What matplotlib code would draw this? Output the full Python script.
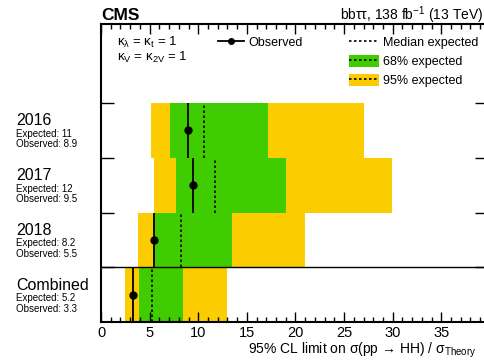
import matplotlib.pyplot as plt
from matplotlib.patches import Patch
from matplotlib.lines import Line2D
from matplotlib.ticker import MultipleLocator

plt.rcParams['font.family'] = ['Liberation Sans', 'DejaVu Sans']
plt.rcParams['mathtext.fontset'] = 'custom'
plt.rcParams['mathtext.rm'] = 'Liberation Sans'
plt.rcParams['mathtext.it'] = 'Liberation Sans'

# rows from bottom to top
labels = ["Combined", "2018", "2017", "2016"]
exp_text = ["5.2", "8.2", "12", "11"]
obs_text = ["3.3", "5.5", "9.5", "8.9"]
lo95 = [2.5, 3.85, 5.5, 5.15]
hi95 = [13.0, 21.0, 29.9, 27.0]
lo68 = [3.95, 5.55, 7.7, 7.1]
hi68 = [8.4, 13.5, 19.0, 17.2]
expected = [5.2, 8.2, 11.7, 10.6]
observed = [3.3, 5.5, 9.5, 8.9]

yellow = "#FBCC00"
green = "#3FCC00"

W, H = 484, 362
fig = plt.figure(figsize=(W / 100, H / 100), dpi=100)
ax = fig.add_axes([101 / W, 40 / H, 386 / W, 298 / H])

for i in range(len(labels)):
    ax.barh(i + 0.5, hi95[i] - lo95[i], left=lo95[i], height=1, color=yellow, lw=0)
    ax.barh(i + 0.5, hi68[i] - lo68[i], left=lo68[i], height=1, color=green, lw=0)
    ax.vlines(expected[i], i, i + 1, colors="black", linestyles=(0, (1.5, 1.5)), lw=1.2)
    ax.vlines(observed[i], i, i + 1, colors="black", lw=1.3)
    ax.plot(observed[i], i + 0.5, "o", color="black", ms=5)

ax.axhline(1, color="black", lw=1)

ax.set_xlim(0, 39.7)
ax.set_ylim(0, 298 / 54.75)
ax.xaxis.set_major_locator(MultipleLocator(5))
ax.xaxis.set_minor_locator(MultipleLocator(1))
ax.set_yticks([1, 2, 3, 4])
ax.set_yticklabels([])
ax.tick_params(axis="x", which="major", direction="in", top=True, length=7, width=1, labelsize=10.5, pad=3)
ax.tick_params(axis="x", which="minor", direction="in", top=True, length=3.5, width=1)
ax.tick_params(axis="y", which="major", direction="in", right=True, length=9, width=1)
for s in ax.spines.values():
    s.set_linewidth(1.5)

# row labels on the left
for i in range(len(labels)):
    yc = ax.transData.transform((0, i + 0.5))[1] / fig.dpi / (H / 100)
    fig.text(16 / W, yc + 9.5 / H, labels[i], fontsize=11.5, va="center")
    fig.text(16 / W, yc - 3.5 / H, "Expected: " + exp_text[i], fontsize=7, va="center")
    fig.text(16 / W, yc - 14 / H, "Observed: " + obs_text[i], fontsize=7, va="center")

fig.text(101 / W, 1 - 15 / H, "CMS", fontsize=12.5, fontweight="bold", va="center")
fig.text(483 / W, 1 - 15 / H, r"bbττ, 138 fb$^{-1}$ (13 TeV)", fontsize=10, va="center", ha="right")

ax.text(16 / 386, 1 - 18 / 298, "κ$_{λ}$ = κ$_{\\rm t}$ = 1", transform=ax.transAxes,
        fontsize=9.5, va="center")
ax.text(16 / 386, 1 - 33 / 298, "κ$_{\\rm V}$ = κ$_{\\rm 2V}$ = 1", transform=ax.transAxes,
        fontsize=9.5, va="center")

h_obs = Line2D([], [], color="black", marker="o", ms=4, lw=1.3)
leg1 = ax.legend([h_obs], ["Observed"], loc="upper left", bbox_to_anchor=(117 / 386, 1 - 12 / 298),
                 frameon=False, fontsize=9, handlelength=2.1, handletextpad=0.3,
                 handleheight=1.1, borderaxespad=0, borderpad=0)
ax.add_artist(leg1)

h_med = Line2D([], [], color="black", ls=(0, (1.5, 1.5)), lw=1.2)
h68 = (Patch(facecolor=green, lw=0), Line2D([], [], color="black", ls=(0, (1.5, 1.5)), lw=1.2))
h95 = (Patch(facecolor=yellow, lw=0), Line2D([], [], color="black", ls=(0, (1.5, 1.5)), lw=1.2))
ax.legend([h_med, h68, h95], ["Median expected", "68% expected", "95% expected"], loc="upper left",
          bbox_to_anchor=(248 / 386, 1 - 12 / 298), frameon=False, fontsize=9, handlelength=2.4,
          handleheight=1.1, handletextpad=0.3, labelspacing=0.46, borderaxespad=0, borderpad=0)

fig.text(248 / W, 1 - 350 / H, "95% CL limit on σ(pp → HH) / σ$_{\\rm Theory}$",
         fontsize=10, va="center")

fig.savefig("out.png", dpi=100)
